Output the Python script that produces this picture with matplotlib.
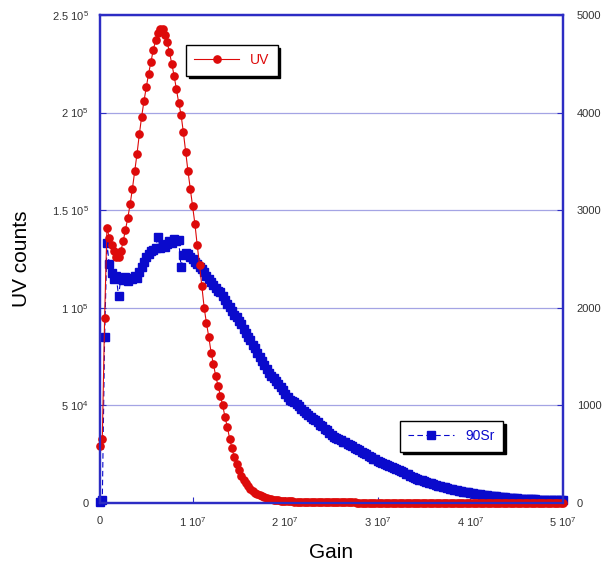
import numpy as np
import matplotlib
matplotlib.use('Agg')
from matplotlib import pyplot as plt

plt.rcParams['font.family'] = ['Liberation Sans', 'DejaVu Sans']
plt.rcParams['mathtext.default'] = 'regular'

# gain bins are 2.5e5 wide, from 0 to 5e7
gain_step = 2.5e5

# UV counts, in units of 1e3
uv_counts_k = [
    29, 33, 95, 141, 136, 132, 129, 126, 126, 129,
    134, 140, 146, 153, 161, 170, 179, 189, 198, 206,
    213, 220, 226, 232, 237, 241, 243, 243, 240, 236,
    231, 225, 219, 212, 205, 199, 190, 180, 170, 161,
    152, 143, 132, 122, 111, 100, 92, 85, 77, 71,
    65, 60, 55, 50, 44, 39, 33, 28, 23.5, 20,
    17, 14, 12, 10, 8.5, 7.2, 6.2, 5.3, 4.6, 4.0,
    3.5, 3.0, 2.6, 2.3, 2.0, 1.7, 1.5, 1.3, 1.2, 1.1,
    1.0, 0.9, 0.85, 0.8, 0.75, 0.7, 0.65, 0.6, 0.58, 0.55,
    0.52, 0.5, 0.48, 0.46, 0.44, 0.42, 0.4, 0.38, 0.37, 0.36,
    0.35, 0.34, 0.33, 0.32, 0.31, 0.30, 0.29, 0.28, 0.28, 0.27,
    0.26, 0.25, 0.25, 0.24, 0.23, 0.22, 0.22, 0.21, 0.20, 0.20,
    0.19, 0.19, 0.18, 0.18, 0.17, 0.17, 0.16, 0.16, 0.15, 0.15,
    0.14, 0.14, 0.14, 0.13, 0.13, 0.12, 0.12, 0.12, 0.11, 0.11,
    0.11, 0.10, 0.10, 0.10, 0.10, 0.09, 0.09, 0.09, 0.09, 0.08,
    0.08, 0.08, 0.08, 0.08, 0.07, 0.07, 0.07, 0.07, 0.07, 0.06,
    0.06, 0.06, 0.06, 0.06, 0.06, 0.05, 0.05, 0.05, 0.05, 0.05,
    0.05, 0.05, 0.04, 0.04, 0.04, 0.04, 0.04, 0.04, 0.04, 0.04,
    0.04, 0.03, 0.03, 0.03, 0.03, 0.03, 0.03, 0.03, 0.03, 0.03,
    0.03, 0.03, 0.03, 0.02, 0.02, 0.02, 0.02, 0.02, 0.02, 0.02, 0.02,
]

# 90Sr counts (right axis)
sr_counts = [
    10, 30, 1700, 2660, 2450, 2360, 2290, 2330, 2120, 2300,
    2280, 2320, 2270, 2310, 2290, 2330, 2310, 2370, 2420, 2470,
    2520, 2550, 2580, 2590, 2610, 2730, 2610, 2640, 2620, 2650,
    2680, 2660, 2700, 2680, 2690, 2420, 2540, 2560, 2550, 2520,
    2500, 2470, 2450, 2420, 2400, 2370, 2330, 2300, 2260, 2230,
    2200, 2170, 2160, 2120, 2080, 2040, 2010, 1970, 1930, 1910,
    1860, 1830, 1780, 1740, 1700, 1670, 1620, 1590, 1540, 1500,
    1450, 1410, 1370, 1330, 1300, 1280, 1250, 1220, 1190, 1160,
    1120, 1090, 1060, 1040, 1030, 1010, 990, 960, 940, 920,
    900, 880, 860, 850, 830, 800, 790, 760, 750, 720,
    700, 680, 670, 660, 650, 630, 620, 600, 590, 580,
    560, 550, 540, 525, 510, 500, 480, 470, 455, 450,
    430, 425, 410, 400, 385, 380, 365, 355, 345, 340,
    325, 315, 300, 295, 280, 270, 260, 250, 240, 235,
    225, 215, 205, 200, 190, 185, 175, 170, 165, 160,
    150, 145, 140, 135, 130, 125, 120, 115, 112, 108,
    104, 100, 96, 92, 88, 85, 82, 79, 76, 73,
    70, 68, 66, 63, 61, 58, 56, 54, 52, 50,
    48, 46, 44, 43, 41, 40, 38, 37, 36, 35,
    34, 33, 32, 31, 30, 30, 29, 28, 28, 27, 27,
]

x_ticks = [0, 1e7, 2e7, 3e7, 4e7, 5e7]
x_tick_labels = ['0', '1 10$^7$', '2 10$^7$', '3 10$^7$', '4 10$^7$', '5 10$^7$']
uv_ticks = [0, 5e4, 1e5, 1.5e5, 2e5, 2.5e5]
uv_tick_labels = ['0', '5 10$^4$', '1 10$^5$', '1.5 10$^5$', '2 10$^5$', '2.5 10$^5$']
sr_ticks = [0, 1000, 2000, 3000, 4000, 5000]

red = '#dd0a0a'
blue = '#0a0acc'
spine_blue = '#2c2cc4'
grid_blue = '#a4a4e4'

gain = np.arange(len(uv_counts_k)) * gain_step
uv = np.array(uv_counts_k) * 1e3

fig = plt.figure(figsize=(6.05, 5.67), dpi=100)
ax_uv = fig.add_axes([100 / 605, 1 - 503 / 567, 463 / 605, 488 / 567])
ax_sr = ax_uv.twinx()
ax_uv.set_zorder(ax_sr.get_zorder() + 1)
ax_uv.patch.set_visible(False)

line_sr, = ax_sr.plot(gain, sr_counts, color=blue, marker='s', markersize=5.2,
                      linestyle=(0, (5, 3)), linewidth=0.8, clip_on=False)
line_uv, = ax_uv.plot(gain, uv, color=red, marker='o', markersize=5.2,
                      linestyle='-', linewidth=0.8, clip_on=False)

ax_uv.set_xlim(0, 5e7)
ax_uv.set_ylim(0, 2.5e5)
ax_sr.set_ylim(0, 5000)

ax_uv.set_xticks(x_ticks)
ax_uv.set_xticklabels(x_tick_labels)
ax_uv.set_yticks(uv_ticks)
ax_uv.set_yticklabels(uv_tick_labels)
ax_sr.set_yticks(sr_ticks)
ax_sr.set_yticklabels([str(t) for t in sr_ticks])

ax_sr.grid(True, color=grid_blue, linewidth=0.9)
ax_sr.set_axisbelow(True)

for a in (ax_uv, ax_sr):
    for s in a.spines.values():
        s.set_color(spine_blue)
        s.set_linewidth(1.6)
    a.tick_params(direction='in', length=4, color=spine_blue, labelsize=8,
                  labelcolor='#333333')
ax_uv.tick_params(axis='x', pad=9)
ax_uv.tick_params(axis='y', pad=8)
ax_sr.tick_params(axis='y', pad=10)

ax_uv.set_xlabel('Gain', fontsize=15, labelpad=10)
ax_uv.set_ylabel('UV counts', fontsize=15, labelpad=15)

shadow = {'ox': 2, 'oy': -2, 'color': 'black', 'alpha': 1}
leg_uv = ax_uv.legend([line_uv], ['UV'], loc='upper left',
                      bbox_to_anchor=(186 / 605, 1 - 45 / 567),
                      bbox_transform=fig.transFigure, borderaxespad=0,
                      fancybox=False, shadow=shadow, framealpha=1,
                      edgecolor='black', fontsize=10, numpoints=1,
                      handlelength=3.2, borderpad=0.6)
leg_uv.get_frame().set_linewidth(1)
leg_uv.get_texts()[0].set_color(red)

leg_sr = ax_sr.legend([line_sr], ['90Sr'], loc='upper left',
                      bbox_to_anchor=(400 / 605, 1 - 421 / 567),
                      bbox_transform=fig.transFigure, borderaxespad=0,
                      fancybox=False, shadow=shadow, framealpha=1,
                      edgecolor='black', fontsize=10, numpoints=1,
                      handlelength=3.3, borderpad=0.6)
leg_sr.get_frame().set_linewidth(1)
leg_sr.get_texts()[0].set_color(blue)
leg_sr.set_zorder(10)

fig.savefig('out.png', dpi=100)
